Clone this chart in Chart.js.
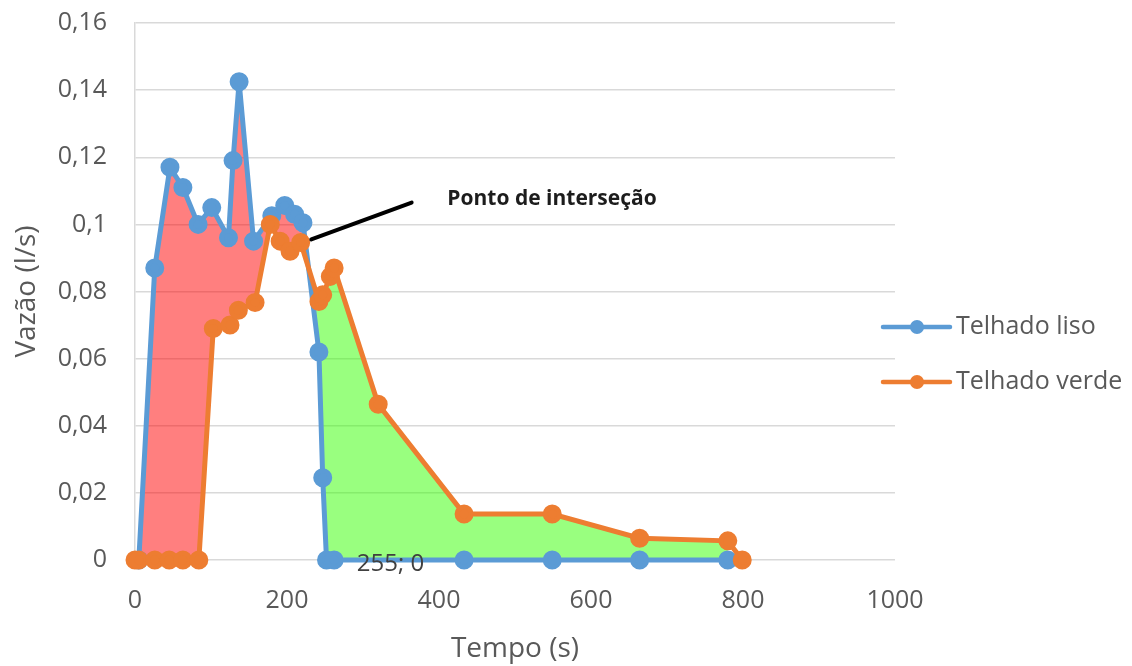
<!DOCTYPE html>
<html>
<head>
<meta charset="utf-8">
<script src="https://cdn.jsdelivr.net/npm/chart.js@4"></script>
<style>
  html, body { margin: 0; padding: 0; background: #fff; }
  #wrap { width: 1132px; height: 666px; }
</style>
</head>
<body>
<div id="wrap"><canvas id="grafico"></canvas></div>
<script>
(() => {
  'use strict'

  // Telhado liso (azul)
  const tempoLiso = [5, 26, 46, 63, 83, 101, 123, 129, 137, 156, 180, 197, 210, 221, 242, 247, 252, 262, 433, 549, 664, 780]
  const vazaoLiso = [0, 0.087, 0.117, 0.111, 0.100, 0.105, 0.096, 0.119, 0.1425, 0.095, 0.1026, 0.1056, 0.103, 0.1005, 0.062, 0.0245, 0, 0, 0, 0, 0, 0]

  // Telhado verde (laranja)
  const tempoVerde = [0, 5, 26, 45, 63, 84, 103, 125, 136, 158, 178, 191, 204, 218, 242, 247, 257, 262, 320, 433, 549, 664, 780, 799]
  const vazaoVerde = [0, 0, 0, 0, 0, 0, 0.069, 0.070, 0.0744, 0.0767, 0.100, 0.095, 0.092, 0.0946, 0.077, 0.079, 0.0845, 0.087, 0.0464, 0.0137, 0.0137, 0.0065, 0.0057, 0]

  const nomesSeries = ['Telhado liso', 'Telhado verde']
  const ticksX = [0, 200, 400, 600, 800, 1000]
  const ticksY = [0, 0.02, 0.04, 0.06, 0.08, 0.1, 0.12, 0.14, 0.16]

  const AZUL = '#5B9BD5'
  const LARANJA = '#ED7D31'
  const CINZA = '#595959'
  const FONTE = '"Open Sans", "Noto Sans", sans-serif'

  const pares = (xs, ys) => xs.map((x, i) => ({ x, y: ys[i] }))
  const virgula = v => v === 0 ? '0' : String(+v.toFixed(2)).replace('.', ',')

  // Anotação, rótulo de dado e legenda desenhados à mão
  const extras = {
    id: 'extras',
    afterDraw(chart) {
      const c = chart.ctx
      const sx = chart.scales.x
      const sy = chart.scales.y

      // seta do ponto de interseção
      c.save()
      c.strokeStyle = '#000'
      c.lineWidth = 4
      c.lineCap = 'round'
      c.beginPath()
      c.moveTo(sx.getPixelForValue(364), sy.getPixelForValue(0.1065))
      c.lineTo(sx.getPixelForValue(232), sy.getPixelForValue(0.0955))
      c.stroke()
      c.fillStyle = '#1c1c1c'
      c.font = 'bold 21px ' + FONTE
      c.textBaseline = 'middle'
      c.fillText('Ponto de interseção', sx.getPixelForValue(411), sy.getPixelForValue(0.1075))

      // rótulo "255; 0"
      c.fillStyle = '#404040'
      c.font = '24px ' + FONTE
      c.fillText('255; 0', sx.getPixelForValue(255) + 28, sy.getPixelForValue(0) + 4)

      // legenda
      const cores = [AZUL, LARANJA]
      nomesSeries.forEach((nome, i) => {
        const y = 327 + i * 55
        c.strokeStyle = cores[i]
        c.lineWidth = 4.5
        c.beginPath()
        c.moveTo(883, y)
        c.lineTo(950, y)
        c.stroke()
        c.fillStyle = cores[i]
        c.beginPath()
        c.arc(917, y, 7, 0, Math.PI * 2)
        c.fill()
        c.fillStyle = CINZA
        c.font = '25px ' + FONTE
        c.fillText(nome, 956, y)
      })
      c.restore()
    }
  }

  const ctx = document.getElementById('grafico')

  new Chart(ctx, {
    type: 'line',
    data: {
      datasets: [{
        label: nomesSeries[0],
        data: pares(tempoLiso, vazaoLiso),
        borderColor: AZUL,
        backgroundColor: AZUL,
        pointBackgroundColor: AZUL,
        pointBorderColor: AZUL,
        borderWidth: 5,
        pointRadius: 7,
        tension: 0,
        order: 2,
        clip: false,
        fill: {
          target: 1,
          above: 'rgba(255, 0, 0, 0.5)',
          below: 'rgba(51, 255, 0, 0.5)'
        }
      }, {
        label: nomesSeries[1],
        data: pares(tempoVerde, vazaoVerde),
        borderColor: LARANJA,
        backgroundColor: LARANJA,
        pointBackgroundColor: LARANJA,
        pointBorderColor: LARANJA,
        borderWidth: 5,
        pointRadius: 7,
        tension: 0,
        order: 1,
        clip: false,
        fill: false
      }]
    },
    options: {
      responsive: true,
      maintainAspectRatio: false,
      animation: false,
      layout: {
        padding: { left: 10, right: 237, top: 23, bottom: 0 }
      },
      scales: {
        x: {
          type: 'linear',
          min: 0,
          max: 1000,
          afterBuildTicks: s => { s.ticks = ticksX.map(v => ({ value: v })) },
          afterFit: s => { s.height = 106 },
          grid: { display: false, drawTicks: false },
          border: { display: false },
          ticks: {
            color: CINZA,
            padding: 26,
            font: { family: FONTE, size: 25 },
            callback: v => String(v)
          },
          title: {
            display: true,
            text: 'Tempo (s)',
            color: CINZA,
            padding: 0,
            font: { family: FONTE, size: 28 }
          }
        },
        y: {
          min: 0,
          max: 0.16,
          afterBuildTicks: s => { s.ticks = ticksY.map(v => ({ value: v })) },
          afterFit: s => {
            s.width = 125
            s.paddingTop = 0
            s.paddingBottom = 0
          },
          grid: { color: '#d9d9d9', lineWidth: 1.5, drawTicks: false },
          border: { display: true, color: '#d9d9d9', width: 1.5 },
          ticks: {
            color: CINZA,
            padding: 28,
            font: { family: FONTE, size: 25 },
            callback: v => virgula(v)
          },
          title: {
            display: true,
            text: 'Vazão (l/s)',
            color: CINZA,
            padding: 0,
            font: { family: FONTE, size: 28 }
          }
        }
      },
      plugins: {
        legend: { display: false },
        tooltip: { enabled: false },
        extras: {}
      }
    },
    plugins: [extras]
  })
})()
</script>
</body>
</html>
